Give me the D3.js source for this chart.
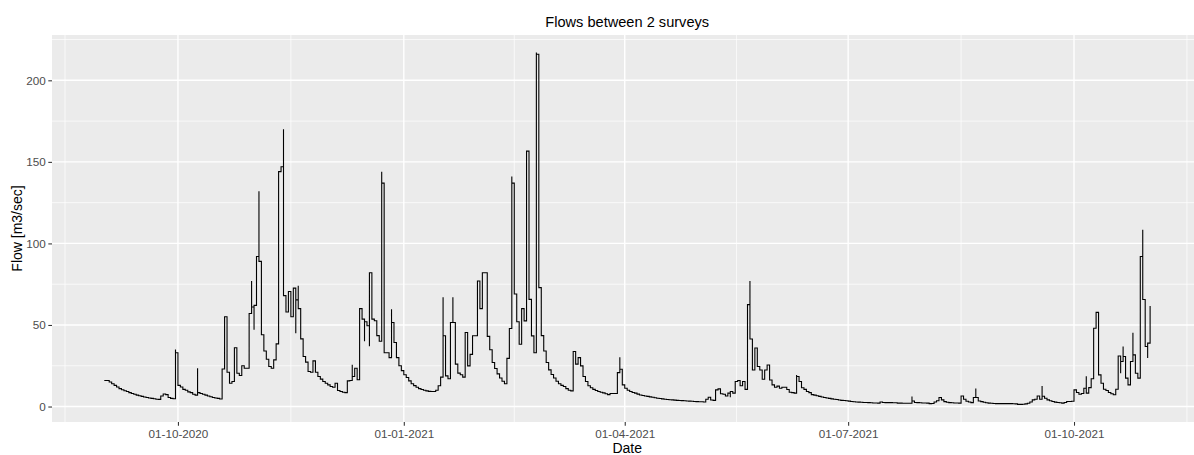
<!DOCTYPE html>
<html>
<head>
<meta charset="utf-8">
<title>Flows between 2 surveys</title>
<script src="https://cdn.jsdelivr.net/npm/d3@7"></script>
<style>
  body { margin: 0; background: white; }
  svg { display: block; font-family: "Liberation Sans", Arial, Helvetica, sans-serif; }
</style>
</head>
<body>
<div id="chart"></div>
<script>
// ---------- Data ----------
// daily flow [m3/sec], one value per day starting at startDate
const startDate = "2020-09-01";
const flow = [
  16, 16, 15, 14, 13, 12, 11, 10.3, 9.7, 9.2,                 // Sep 2020
  8.5, 8, 7.5, 7, 6.6, 6.2, 5.8, 5.5, 5.2, 5,
  4.8, 4.5, 4.4, 6.5, 7.7, 7.3, 5.5, 5, 4.8, 33,
  13, 12, 10.5, 10, 9, 8.5, 7.5, 7, 8.5, 8,                  // Oct 2020
  7.5, 7, 6.5, 6, 5.5, 5.2, 5, 4.6, 23, 55,
  21, 14.3, 15.3, 36, 20.4, 19, 25, 23.5, 23.5, 57,
  61, 62, 92, 89, 44, 34, 29, 24.5, 23.5, 28.6,              // Nov 2020
  38.4, 144, 147, 68, 58, 70.5, 55, 72.6, 65.4, 60,
  41.5, 30.7, 27.2, 21.5, 21, 28, 21, 18.4, 16.8, 15.3,
  14.3, 13.3, 12.3, 11.8, 14.3, 9.8, 9.2, 8.8, 8.5, 15.7,    // Dec 2020
  16, 18.4, 23.5, 16.4, 60, 53.6, 52, 49.5, 82, 53.6,
  52.6, 43.5, 40, 137, 33, 33, 30, 51.5, 39.3, 30,
  25, 22, 19.5, 17.8, 15.7, 14, 12.8, 11.8, 11, 10.4,        // Jan 2021
  10, 9.6, 9.3, 9.2, 9.2, 10, 12.7, 18, 43.4, 18.8,
  17, 51.5, 51.5, 26, 20.5, 19.5, 18, 45.4, 24.9, 32,
  43.4, 43.4, 77, 60, 82, 82, 43, 34.8, 27, 23.3,            // Feb 2021
  20, 17.5, 15.5, 14, 29.5, 47.8, 137, 69, 52, 38.2,
  60, 52.5, 156.6, 65.7, 43.3, 33, 216, 72.9, 43.5, 34,
  27, 22.5, 19.6, 17.5, 15.5, 14, 13, 12.3, 11, 10,          // Mar 2021
  9.6, 33.7, 26, 30, 24.9, 18.4, 15.3, 12.7, 11.5, 10.5,
  9.8, 9.2, 8.8, 8.4, 7.8, 7.3, 8, 8, 8, 20.8,
  22.9, 13.3, 11.2, 10, 9.2, 8.6, 8.2, 7.6, 7.1, 6.8,        // Apr 2021
  6.5, 6.2, 5.9, 5.7, 5.4, 5.1, 4.9, 4.7, 4.5, 4.3,
  4.2, 4.1, 3.9, 3.8, 3.7, 3.6, 3.5, 3.4, 3.3, 3.2,
  3.1, 3, 2.9, 2.9, 2.8, 4.5, 5.7, 4, 3.8, 10.2,             // May 2021
  10.8, 7.8, 7.5, 6.5, 8.2, 9.2, 8.2, 15.3, 16, 12.7,
  15.3, 10.5, 62.5, 41.4, 22.4, 35.9, 24.5, 22.4, 16.7, 22.4,
  25.5, 16.3, 13.3, 11.8, 12.5, 11.2, 11.8, 11.8, 10.4, 8.8, // Jun 2021
  8.5, 8.2, 18.4, 15.3, 11.5, 10.5, 9.2, 8.5, 7.3, 7,
  6.6, 6.2, 5.8, 5.5, 5.2, 5, 4.7, 4.5, 4.3, 4,
  3.8, 3.7, 3.5, 3.3, 3.1, 2.9, 2.8, 2.7, 2.6, 2.5,          // Jul 2021
  2.5, 2.4, 2.3, 2.2, 2.2, 2.1, 2.8, 2.5, 2.4, 2.4,
  2.4, 2.3, 2.3, 2.1, 2.1, 2, 2, 2, 2, 3.4,
  2.5, 2.4, 2.3, 2.2, 2.2, 2.1, 1.8, 1.9, 2.8, 3.5,          // Aug 2021
  5.5, 4.1, 3, 2.6, 2.4, 2.3, 2.2, 2.2, 2.1, 6.5,
  4.5, 3.2, 2.8, 2.4, 5.5, 5.5, 3.4, 3, 2.6, 2.3,
  2.1, 2, 1.9, 1.8, 1.8, 1.8, 1.8, 1.8, 1.8, 1.8,            // Sep 2021
  1.7, 1.6, 1.3, 1.3, 1.4, 1.6, 2, 2.8, 4.1, 4.5,
  6.5, 4.5, 6.3, 5.1, 4.1, 3.5, 3.1, 2.7, 2.5, 2.3,
  2.1, 2.5, 3.1, 3.1, 3.2, 10.2, 8.6, 7.5, 8, 11.2,          // Oct 2021
  8.2, 11.6, 17, 48, 57.7, 19.4, 14.3, 10.6, 9.8, 8.6,
  7.8, 7.2, 10.6, 31, 27.6, 30.7, 17.4, 13.3, 27.6, 31.7,
  20.4, 17.4, 92, 65.6, 36.8, 38.9, 61.7
];

// short-lived peaks, at the change from one day to the next (day index)
const spikeDays  = [29, 38, 60, 61, 63, 73, 78, 79, 101, 106, 108, 113, 117, 138, 142,
                    166, 176, 210, 255, 263, 282, 329, 355, 382, 400, 414, 415, 419, 423, 425];
const spikeFlows = [35, 23.5, 77, 47, 132, 170, 45, 74, 25.6, 40, 37, 144, 59.7, 67, 67,
                    141, 217, 30.2, 5.7, 77, 19.4, 6.1, 11, 12.6, 18.6, 20.4, 36.8, 45.2, 108.4, 29.7];

// axis breaks
const xTickDates = ["2020-10-01", "2021-01-01", "2021-04-01", "2021-07-01", "2021-10-01"];
const yTicks = [0, 50, 100, 150, 200];

// ---------- Layout ----------
const width = 1194;
const height = 455;
const panel = { left: 52, top: 35, right: 1202.4, bottom: 422 };

const parseDay = d3.utcParse("%Y-%m-%d");
const day0 = parseDay(startDate);
const dayToDate = i => d3.utcDay.offset(day0, 0) && new Date(day0.getTime() + i * 864e5);

const svg = d3.select("#chart").append("svg")
    .attr("width", width)
    .attr("height", height)
    .style("background", "white");

// ---------- Scales (ggplot style 5% expansion) ----------
const xMin = dayToDate(0);
const xMax = dayToDate(flow.length - 1);
const xPad = (xMax - xMin) * 0.05;
const x = d3.scaleUtc()
    .domain([new Date(+xMin - xPad), new Date(+xMax + xPad)])
    .range([panel.left, panel.right]);

const allValues = flow.concat(spikeFlows);
const yLo = d3.min(allValues), yHi = d3.max(allValues);
const yPad = (yHi - yLo) * 0.05;
const y = d3.scaleLinear()
    .domain([yLo - yPad, yHi + yPad])
    .range([panel.bottom, panel.top]);

// ---------- Panel + grid ----------
svg.append("clipPath").attr("id", "panel-clip")
  .append("rect")
    .attr("x", panel.left).attr("y", panel.top)
    .attr("width", panel.right - panel.left)
    .attr("height", panel.bottom - panel.top);

const g = svg.append("g").attr("clip-path", "url(#panel-clip)");

g.append("rect")
    .attr("x", panel.left).attr("y", panel.top)
    .attr("width", panel.right - panel.left)
    .attr("height", panel.bottom - panel.top)
    .attr("fill", "#EBEBEB");

// minor breaks = midpoints of the major ones, extended one step each side
const xMajor = xTickDates.map(parseDay);
const xMinor = [];
for (let i = 0; i < xMajor.length - 1; i++) {
    xMinor.push(new Date((+xMajor[i] + +xMajor[i + 1]) / 2));
}
xMinor.unshift(new Date(+xMajor[0] - (+xMinor[0] - +xMajor[0])));
xMinor.push(new Date(+xMajor[xMajor.length - 1] + (+xMajor[xMajor.length - 1] - +xMinor[xMinor.length - 1])));

const yStep = yTicks[1] - yTicks[0];
const yMinor = [yTicks[0] - yStep / 2].concat(yTicks.map(v => v + yStep / 2))
    .filter(v => v >= y.domain()[0] && v <= y.domain()[1]);

g.selectAll(".ymin").data(yMinor).join("line")
    .attr("x1", panel.left).attr("x2", panel.right)
    .attr("y1", d => y(d)).attr("y2", d => y(d))
    .attr("stroke", "white").attr("stroke-width", 0.7);

g.selectAll(".xmin").data(xMinor).join("line")
    .attr("x1", d => x(d)).attr("x2", d => x(d))
    .attr("y1", panel.top).attr("y2", panel.bottom)
    .attr("stroke", "white").attr("stroke-width", 0.7);

g.selectAll(".ymaj").data(yTicks).join("line")
    .attr("x1", panel.left).attr("x2", panel.right)
    .attr("y1", d => y(d)).attr("y2", d => y(d))
    .attr("stroke", "white").attr("stroke-width", 1.4);

g.selectAll(".xmaj").data(xMajor).join("line")
    .attr("x1", d => x(d)).attr("x2", d => x(d))
    .attr("y1", panel.top).attr("y2", panel.bottom)
    .attr("stroke", "white").attr("stroke-width", 1.4);

// ---------- Step line ----------
const spikeAt = new Map(spikeDays.map((d, i) => [d, spikeFlows[i]]));
const pts = [[0, flow[0]]];
for (let i = 1; i < flow.length; i++) {
    pts.push([i, flow[i - 1]]);
    if (spikeAt.has(i)) pts.push([i, spikeAt.get(i)]);
    pts.push([i, flow[i]]);
}

const line = d3.line()
    .x(p => x(dayToDate(p[0])))
    .y(p => y(p[1]));

g.append("path")
    .datum(pts)
    .attr("d", line)
    .attr("fill", "none")
    .attr("stroke", "black")
    .attr("stroke-width", 1.1)
    .attr("stroke-linejoin", "miter");

// ---------- Axes ----------
const xAxis = svg.append("g")
    .attr("transform", `translate(0,${panel.bottom})`)
    .call(d3.axisBottom(x)
        .tickValues(xMajor)
        .tickFormat(d3.utcFormat("%d-%m-%Y"))
        .tickSize(3.7)
        .tickPadding(4));

const yAxis = svg.append("g")
    .attr("transform", `translate(${panel.left},0)`)
    .call(d3.axisLeft(y)
        .tickValues(yTicks)
        .tickSize(3.7)
        .tickPadding(2.6));

[xAxis, yAxis].forEach(a => {
    a.select(".domain").remove();
    a.selectAll(".tick line").attr("stroke", "#333333").attr("stroke-width", 1.07);
    a.selectAll(".tick text")
        .attr("fill", "#4D4D4D")
        .style("font-size", "11.7px")
        .style("font-family", "'Liberation Sans', Arial, sans-serif");
});

// ---------- Titles ----------
const panelMid = (panel.left + panel.right) / 2;

svg.append("text")
    .attr("x", panelMid)
    .attr("y", 27)
    .attr("text-anchor", "middle")
    .style("font-size", "14.6px")
    .attr("fill", "black")
    .text("Flows between 2 surveys");

svg.append("text")
    .attr("x", panelMid)
    .attr("y", 453)
    .attr("text-anchor", "middle")
    .style("font-size", "14px")
    .attr("fill", "black")
    .text("Date");

svg.append("text")
    .attr("transform", `translate(22,${(panel.top + panel.bottom) / 2}) rotate(-90)`)
    .attr("text-anchor", "middle")
    .style("font-size", "14px")
    .attr("fill", "black")
    .text("Flow [m3/sec]");
</script>
</body>
</html>
